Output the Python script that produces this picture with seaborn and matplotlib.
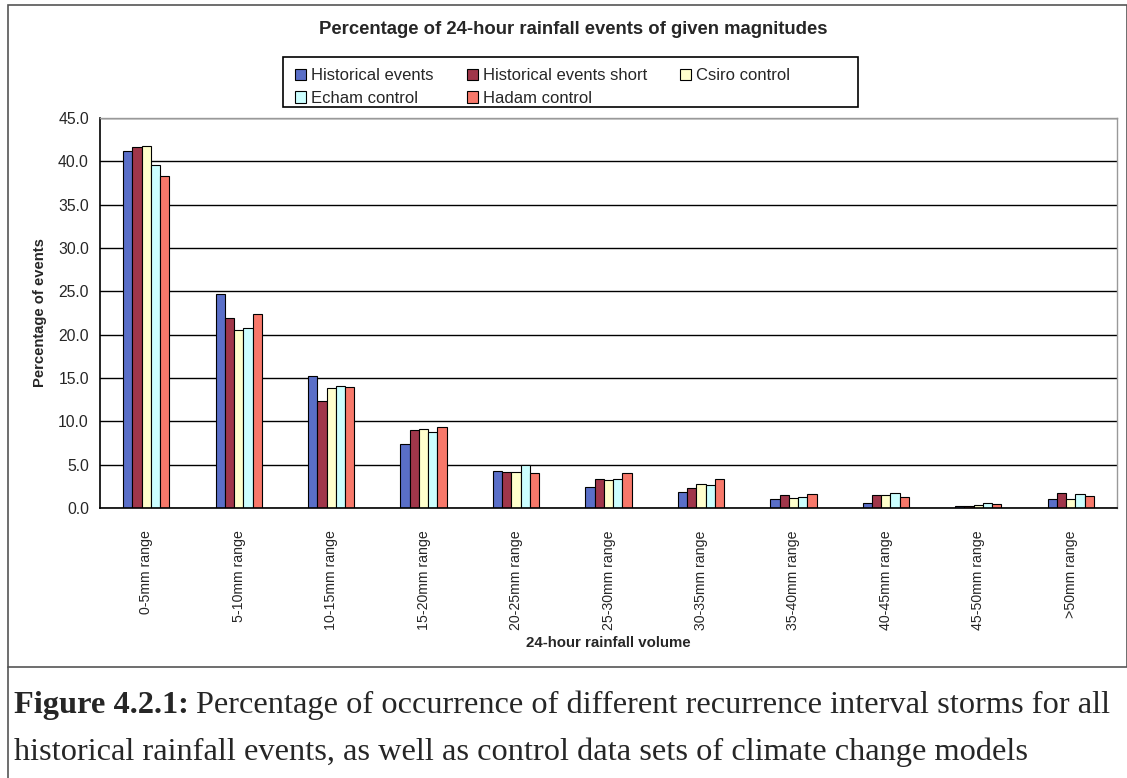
import pandas as pd
import matplotlib
matplotlib.use("Agg")
import matplotlib.pyplot as plt
import seaborn as sns
from matplotlib.patches import Patch, Rectangle


# Chart values
ranges = ["0-5mm range", "5-10mm range", "10-15mm range", "15-20mm range",
          "20-25mm range", "25-30mm range", "30-35mm range", "35-40mm range",
          "40-45mm range", "45-50mm range", ">50mm range"]
series_names = ["Historical events", "Historical events short", "Csiro control",
                "Echam control", "Hadam control"]

historical = [41.2, 24.7, 15.2, 7.4, 4.3, 2.4, 1.9, 1.0, 0.6, 0.2, 1.0]
historical_short = [41.6, 21.9, 12.3, 9.0, 4.1, 3.3, 2.3, 1.5, 1.5, 0.2, 1.7]
csiro = [41.8, 20.5, 13.8, 9.1, 4.2, 3.2, 2.8, 1.1, 1.5, 0.4, 1.0]
echam = [39.6, 20.8, 14.1, 8.8, 5.0, 3.3, 2.6, 1.3, 1.7, 0.6, 1.6]
hadam = [38.3, 22.4, 14.0, 9.3, 4.0, 4.0, 3.4, 1.6, 1.3, 0.5, 1.4]

colors = ["#5a6fc8", "#a0364a", "#ffffcc", "#ccffff", "#f7786a"]

values = [historical, historical_short, csiro, echam, hadam]
rows = []
for name, vals in zip(series_names, values):
    for r, v in zip(ranges, vals):
        rows.append({"Range": r, "Series": name, "Percent": v})
df = pd.DataFrame(rows)

sns.set_style("white")
plt.rcParams["font.family"] = ["Liberation Sans", "DejaVu Sans"]

W, H = 1127, 778
fig = plt.figure(figsize=(W / 100, H / 100), dpi=100)

# plot area in pixel terms
left, right, top, bottom = 100, 1117, 118, 508
ax = fig.add_axes([left / W, 1 - bottom / H, (right - left) / W, (bottom - top) / H])

sns.barplot(data=df, x="Range", y="Percent", hue="Series", hue_order=series_names,
            order=ranges, palette=colors, width=0.5, edgecolor="black",
            linewidth=0.8, saturation=1, ax=ax, legend=False, errorbar=None)

ax.set_xlim(-0.5, len(ranges) - 0.5)
ax.set_ylim(0, 45)
ax.set_yticks([i * 5 for i in range(10)])
ax.set_yticklabels([f"{i * 5:.1f}" for i in range(10)], fontsize=11.3)
ax.yaxis.grid(True, color="black", linewidth=1.0)
ax.set_axisbelow(True)

ax.set_xticks(range(len(ranges)))
ax.set_xticklabels(ranges, rotation=90, fontsize=10.2)
ax.set_xticks([i + 0.5 for i in range(len(ranges) - 1)], minor=True)
ax.tick_params(axis="x", which="major", length=0, pad=16)
ax.tick_params(axis="x", which="minor", length=5, width=1, color="black", direction="out")
ax.tick_params(axis="y", which="major", length=5, width=1, color="black", direction="out", pad=3)

for side in ["left", "bottom"]:
    ax.spines[side].set_color("black")
    ax.spines[side].set_linewidth(1.2)
for side in ["top", "right"]:
    ax.spines[side].set_color("#999999")
    ax.spines[side].set_linewidth(1.0)

ax.set_xlabel("24-hour rainfall volume", fontsize=10.8, fontweight="bold", labelpad=4)
ax.set_ylabel("Percentage of events", fontsize=10.6, fontweight="bold", labelpad=8)

fig.text(573 / W, 1 - 30 / H,
         "Percentage of 24-hour rainfall events of given magnitudes",
         ha="center", va="center", fontsize=13.3, fontweight="bold")

# legend box drawn by hand, entries placed row-wise in 3 columns
fig.add_artist(Rectangle((283 / W, 1 - 107 / H), (858 - 283) / W, (107 - 57) / H,
                         transform=fig.transFigure, facecolor="white",
                         edgecolor="black", linewidth=1.2))
handles = [Patch(facecolor=c, edgecolor="black", linewidth=0.8) for c in colors]
order = [0, 3, 1, 4, 2]
leg = fig.legend([handles[i] for i in order], [series_names[i] for i in order],
                 ncol=3, loc="upper left", bbox_to_anchor=(282 / W, 1 - 55 / H),
                 fontsize=12.0, frameon=False,
                 handlelength=0.65, handleheight=0.65, handletextpad=0.3,
                 columnspacing=2.0, labelspacing=0.45, borderpad=0.3)

# outer chart border and caption separator
fig.add_artist(Rectangle((8 / W, 1 - 667 / H), 1 - 8 / W, (667 - 5) / H,
                         transform=fig.transFigure, fill=False,
                         edgecolor="#555555", linewidth=1.2))
fig.add_artist(plt.Line2D([8 / W, 8 / W], [0, 1 - 667 / H], transform=fig.transFigure,
                          color="#555555", linewidth=1.2))

# caption with bold prefix
fig.canvas.draw()
renderer = fig.canvas.get_renderer()
cap_font = ["Liberation Serif", "DejaVu Serif"]
cap_size = 23.3
t1 = fig.text(14 / W, 1 - 705 / H, "Figure 4.2.1:", family=cap_font, fontsize=cap_size,
              fontweight="bold", va="center", ha="left")
bb = t1.get_window_extent(renderer=renderer)
x_next = (bb.x1 + 7) / W
fig.text(x_next, 1 - 705 / H,
         "Percentage of occurrence of different recurrence interval storms for all",
         family=cap_font, fontsize=cap_size, va="center", ha="left")
fig.text(14 / W, 1 - 752 / H,
         "historical rainfall events, as well as control data sets of climate change models",
         family=cap_font, fontsize=cap_size, va="center", ha="left")

fig.savefig("out.png", dpi=100)
plt.close(fig)
